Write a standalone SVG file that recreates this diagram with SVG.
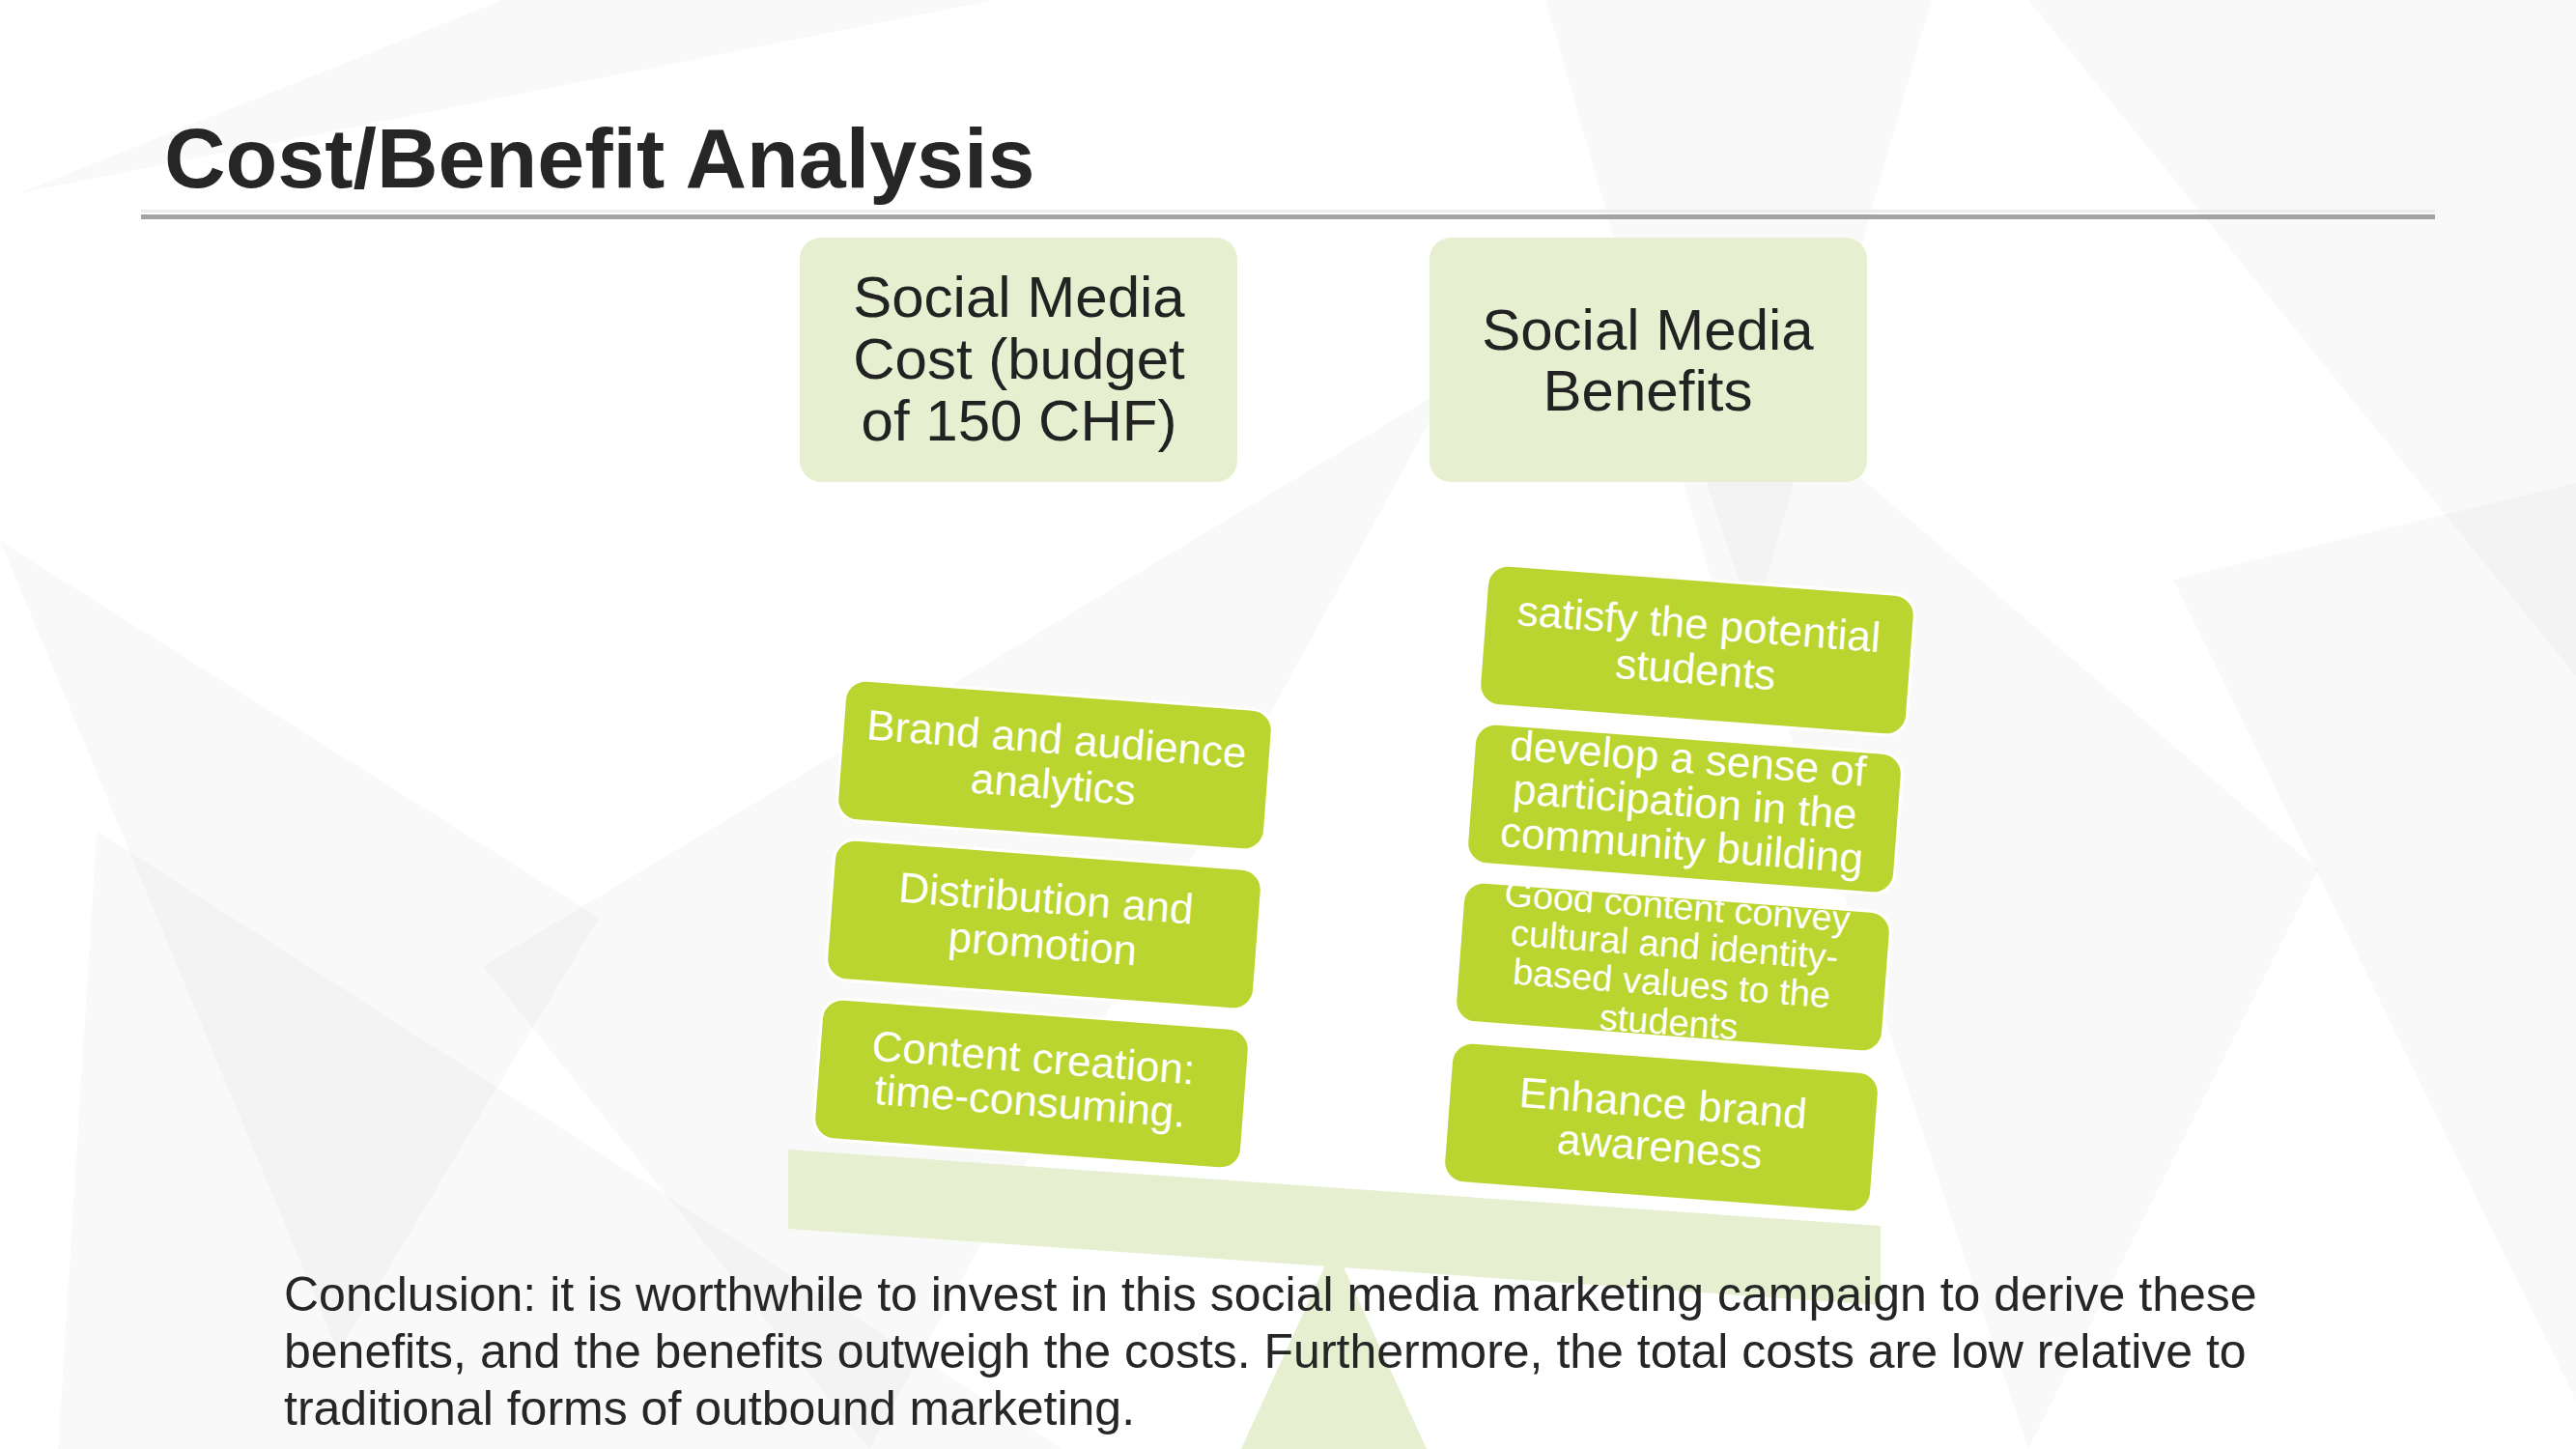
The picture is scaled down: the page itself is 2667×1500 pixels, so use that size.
<svg xmlns="http://www.w3.org/2000/svg" width="2667" height="1500" viewBox="0 0 2667 1500">
<style>
.bg{fill:#000;fill-opacity:0.025}
.hdr{fill:#e6f0d1}
.box{fill:#bbd530;stroke:#ffffff;stroke-width:3}
.ht{font-family:"Liberation Sans",Arial,sans-serif;font-size:60px;fill:#222;text-anchor:middle}
.bt{font-family:"Liberation Sans",Arial,sans-serif;font-size:44px;fill:#ffffff;text-anchor:middle}
.bt38{font-family:"Liberation Sans",Arial,sans-serif;font-size:38px;fill:#ffffff;text-anchor:middle}
.body{font-family:"Liberation Sans",Arial,sans-serif;font-size:50px;fill:#262626}
.light{fill:#e6f0d1}
</style>
<rect width="2667" height="1500" fill="#ffffff"/>
<g id="background">
<polygon class="bg" points="20,200 520,0 1030,0"/>
<polygon class="bg" points="0,560 620,950 350,1400"/>
<polygon class="bg" points="100,860 1100,1500 60,1500"/>
<polygon class="bg" points="2100,0 2667,0 2667,700"/>
<polygon class="bg" points="2250,600 2667,500 2667,1450"/>
<polygon class="bg" points="1600,0 2000,0 1800,700"/>
<polygon class="bg" points="500,1000 1500,400 900,1500"/>
<polygon class="bg" points="1700,300 2400,900 2100,1500"/>
</g>
<g id="title">
<text x="170" y="194" font-family="'Liberation Sans',Arial,sans-serif" font-size="88" font-weight="bold" fill="#262626">Cost/Benefit Analysis</text>
<rect x="146" y="217" width="2375" height="3" fill="#ececec"/>
<rect x="146" y="222" width="2375" height="5" fill="#a3a3a3"/>
</g>
<g id="header-cost">
<rect class="hdr" x="828" y="246" width="453" height="253" rx="22"/>
<text class="ht"><tspan x="1055" y="328">Social Media</tspan><tspan x="1055" y="392">Cost (budget</tspan><tspan x="1055" y="456">of 150 CHF)</tspan></text>
</g>
<g id="header-benefits">
<rect class="hdr" x="1480" y="246" width="453" height="253" rx="22"/>
<text class="ht"><tspan x="1706" y="362">Social Media</tspan><tspan x="1706" y="425">Benefits</tspan></text>
</g>
<g id="fulcrum">
<polygon class="light" points="1381,1290 1477,1500 1285,1500"/>
</g>
<g id="plank">
<polygon class="light" points="816,1190 1947,1269 1947,1351 816,1272"/>
</g>
<g id="cost-1" transform="translate(1092,792) rotate(4.3)">
<rect class="box" x="-222" y="-73" width="444" height="146" rx="22"/>
<text class="bt" y="-12"><tspan x="0">Brand and audience</tspan><tspan x="0" dy="47">analytics</tspan></text>
</g>
<g id="cost-2" transform="translate(1081,957) rotate(4.3)">
<rect class="box" x="-222" y="-73" width="444" height="146" rx="22"/>
<text class="bt" y="-12"><tspan x="0">Distribution and</tspan><tspan x="0" dy="47">promotion</tspan></text>
</g>
<g id="cost-3" transform="translate(1068,1122) rotate(4.3)">
<rect class="box" x="-222" y="-73" width="444" height="146" rx="22"/>
<text class="bt" y="-12"><tspan x="0">Content creation:</tspan><tspan x="0" dy="45">time-consuming.</tspan></text>
</g>
<g id="benefit-1" transform="translate(1757,673) rotate(4.3)">
<rect class="box" x="-222" y="-73" width="444" height="146" rx="22"/>
<text class="bt" y="-12"><tspan x="0">satisfy the potential</tspan><tspan x="0" dy="47">students</tspan></text>
</g>
<g id="benefit-2" transform="translate(1744,837) rotate(4.3)">
<rect class="box" x="-222" y="-73" width="444" height="146" rx="22"/>
<text class="bt" y="-37"><tspan x="0">develop a sense of</tspan><tspan x="0" dy="45">participation in the</tspan><tspan x="0" dy="45">community building</tspan></text>
</g>
<g id="benefit-3" transform="translate(1732,1001) rotate(4.3)">
<rect class="box" x="-222" y="-73" width="444" height="146" rx="22"/>
<text class="bt38" y="-50"><tspan x="0">Good content convey</tspan><tspan x="0" dy="40">cultural and identity-</tspan><tspan x="0" dy="40">based values to the</tspan><tspan x="0" dy="40">students</tspan></text>
</g>
<g id="benefit-4" transform="translate(1720,1167) rotate(4.3)">
<rect class="box" x="-222" y="-73" width="444" height="146" rx="22"/>
<text class="bt" y="-10"><tspan x="0">Enhance brand</tspan><tspan x="0" dy="45">awareness</tspan></text>
</g>
<g id="connectors"></g>
<g id="conclusion">
<text class="body"><tspan x="294" y="1357">Conclusion: it is worthwhile to invest in this social media marketing campaign to derive these</tspan><tspan x="294" y="1416">benefits, and the benefits outweigh the costs. Furthermore, the total costs are low relative to</tspan><tspan x="294" y="1475">traditional forms of outbound marketing.</tspan></text>
</g>
</svg>
